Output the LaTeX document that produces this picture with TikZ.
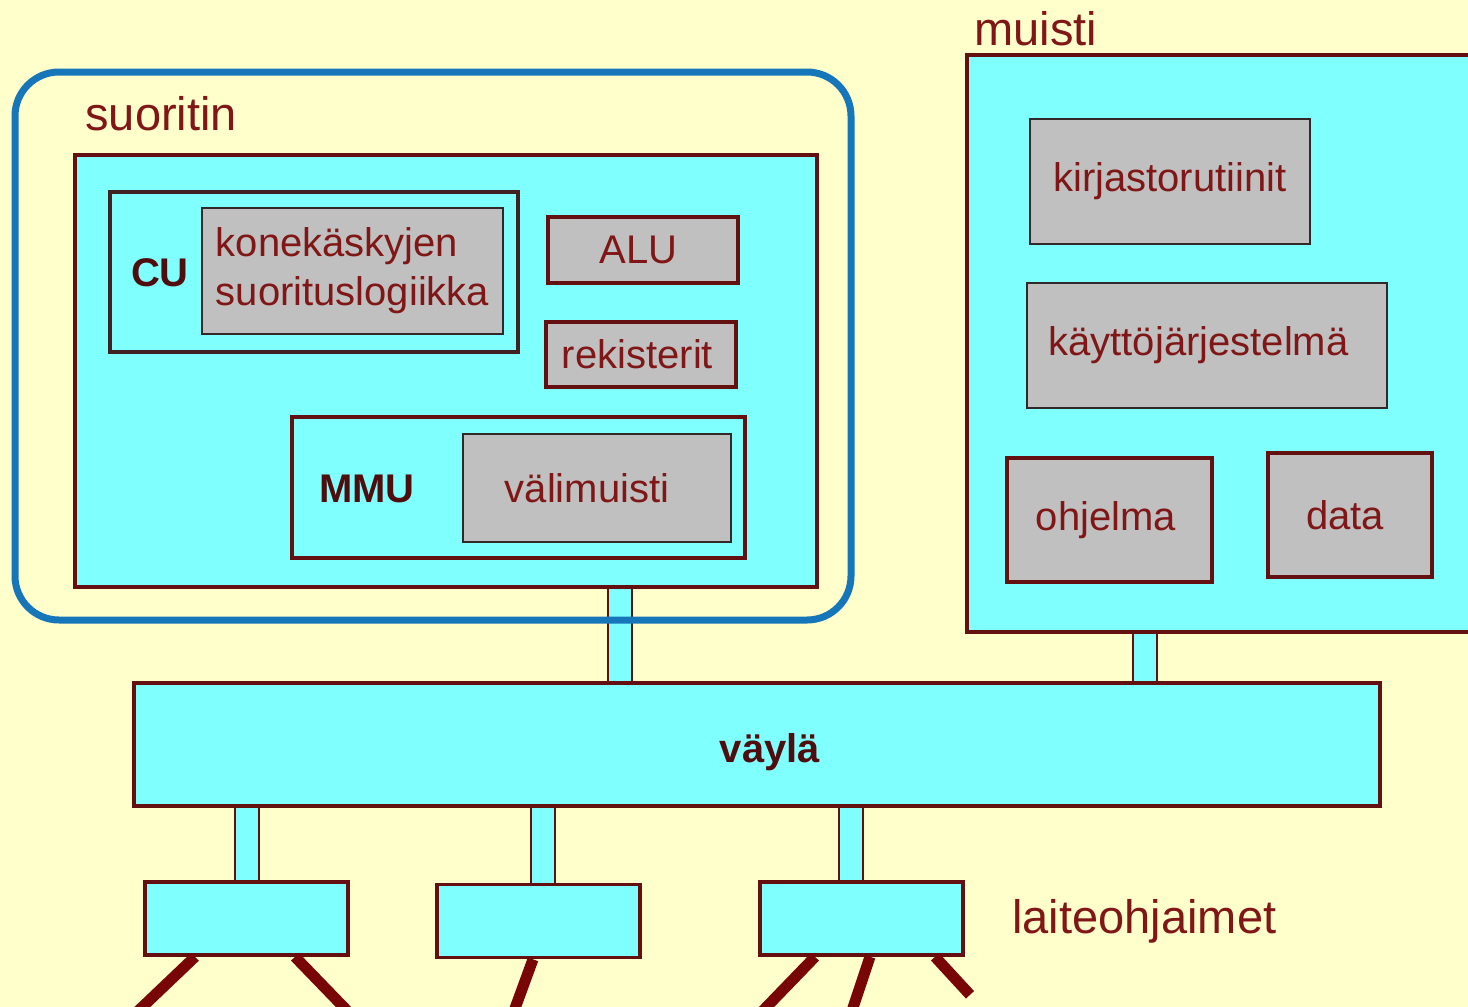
\documentclass[tikz,border=0pt]{standalone}
\usepackage{fontspec}
\setmainfont{Liberation Sans}
\usetikzlibrary{positioning}
\definecolor{paper}{RGB}{255,255,204}
\definecolor{aqua}{RGB}{128,255,255}
\definecolor{silver}{RGB}{192,192,192}
\definecolor{edge}{RGB}{100,16,16}
\definecolor{legred}{RGB}{120,6,6}
\definecolor{rim}{RGB}{50,40,40}
\definecolor{ink}{RGB}{128,22,22}
\definecolor{frameblue}{RGB}{22,118,186}
\newcommand{\boxfont}{\fontsize{20pt}{24.5pt}\selectfont}
\newcommand{\labelfont}{\fontsize{23.5pt}{28pt}\selectfont}

\begin{document}
\begin{tikzpicture}[x=0.5pt,y=-0.5pt,
    box/.style={draw=edge,line width=1.8pt,fill=aqua,inner sep=0pt},
    part/.style={draw=edge,line width=1.8pt,fill=silver,inner sep=0pt,text=ink,font=\boxfont},
    sub/.style={draw=rim,line width=1pt,fill=silver,inner sep=0pt,text=ink,font=\boxfont},
    tag/.style={inner sep=0pt,text=ink,font=\labelfont},
    unit/.style={inner sep=0pt,text=edge!80!black,font=\boxfont\bfseries},
    link/.style={draw=edge,line width=1pt,double=aqua,double distance=11pt},
    leg/.style={draw=legred,line width=5.5pt}]
  \fill[paper] (0,0) rectangle (1468,1007);
  \useasboundingbox (0,0) rectangle (1468,1007);

  % suoritin
  \node[box,minimum width=371pt,minimum height=216pt] (Proc) at (446,371) {};
  \node[box,draw=rim!70!edge,minimum width=204pt,minimum height=80pt] (Cu) at (314,272) {};
  \node[sub,minimum width=150.5pt,minimum height=63pt,align=left] (Logic) at (352.5,271)
    {konekäskyjen\\suorituslogiikka};
  \node[unit,anchor=base] (CuName) at (160,286) {CU};
  \node[part,minimum width=95pt,minimum height=33pt] (Alu) at (643,250) {ALU\kern4.5pt};
  \node[part,minimum width=95pt,minimum height=32.5pt] (Reg) at (641,354.5) {rekisterit\kern3.5pt};
  \node[box,minimum width=226.5pt,minimum height=70.5pt] (Mmu) at (518.5,487.5) {};
  \node[sub,minimum width=134pt,minimum height=54pt] (Cache) at (597,488) {välimuisti\kern10pt};
  \node[unit,anchor=base] (MmuName) at (367,502) {MMU};
  \node[tag,anchor=base west] (ProcName) at (85,130) {suoritin};

  % muisti
  \node[box,minimum width=256.5pt,minimum height=288.5pt] (Mem) at (1223.5,343.5) {};
  \node[tag,anchor=base west] (MemName) at (974,45) {muisti};
  \node[sub,minimum width=140pt,minimum height=62.5pt] (Lib) at (1170,181.5) {kirjastorutiinit};
  \node[sub,minimum width=180pt,minimum height=62.5pt] (Os) at (1207,345.5) {käyttöjärjestelmä\kern8.5pt};
  \node[part,minimum width=102.5pt,minimum height=62pt] (Prog) at (1109.5,520) {ohjelma\kern3.5pt};
  \node[part,minimum width=82pt,minimum height=62pt] (Data) at (1350,515) {data\kern5pt};

  % väylä ja laiteohjaimet
  \node[box,minimum width=623pt,minimum height=61.5pt] (Bus) at (757,744.5) {};
  \node[unit,anchor=base] (BusName) at (770,762) {väylä};
  \node[box,minimum width=101.5pt,minimum height=36.5pt] (DevA) at (246.5,918.5) {};
  \node[box,minimum width=101.5pt,minimum height=36.5pt] (DevB) at (538.5,921) {};
  \node[box,minimum width=101.5pt,minimum height=36.5pt] (DevC) at (861.5,918.5) {};
  \node[tag,anchor=base west] (DevName) at (1012,933) {laiteohjaimet};

  \draw[link] ([xshift=87pt]Proc.south) -- ([xshift=87pt]Proc.south |- Bus.north);
  \draw[link] ([xshift=90pt]Mem.south west) -- ([xshift=90pt]Mem.south west |- Bus.north);
  \draw[link] (DevA.north) -- (DevA.north |- Bus.south);
  \draw[link] ([xshift=2pt]DevB.north) -- ([xshift=2pt]DevB.north |- Bus.south);
  \draw[link] ([xshift=-5.5pt]DevC.north) -- ([xshift=-5.5pt]DevC.north |- Bus.south);

  \draw[leg] ([xshift=-25.75pt]DevA.south) -- ++(-63,60);
  \draw[leg] ([xshift=24.25pt]DevA.south) -- ++(58,60);
  \draw[leg] ([xshift=-2.75pt]DevB.south) -- ++(-22,60);
  \draw[leg] ([xshift=-23.25pt]DevC.south) -- ++(-58,60);
  \draw[leg] ([xshift=4.25pt]DevC.south) -- ++(-20,60);
  \draw[leg] ([xshift=36.75pt]DevC.south) -- ++(35,38);

  \node[draw=frameblue,line width=3.5pt,rounded corners=22pt,
    minimum width=418pt,minimum height=274pt] (Cpu) at (433,346) {};
\end{tikzpicture}
\end{document}
